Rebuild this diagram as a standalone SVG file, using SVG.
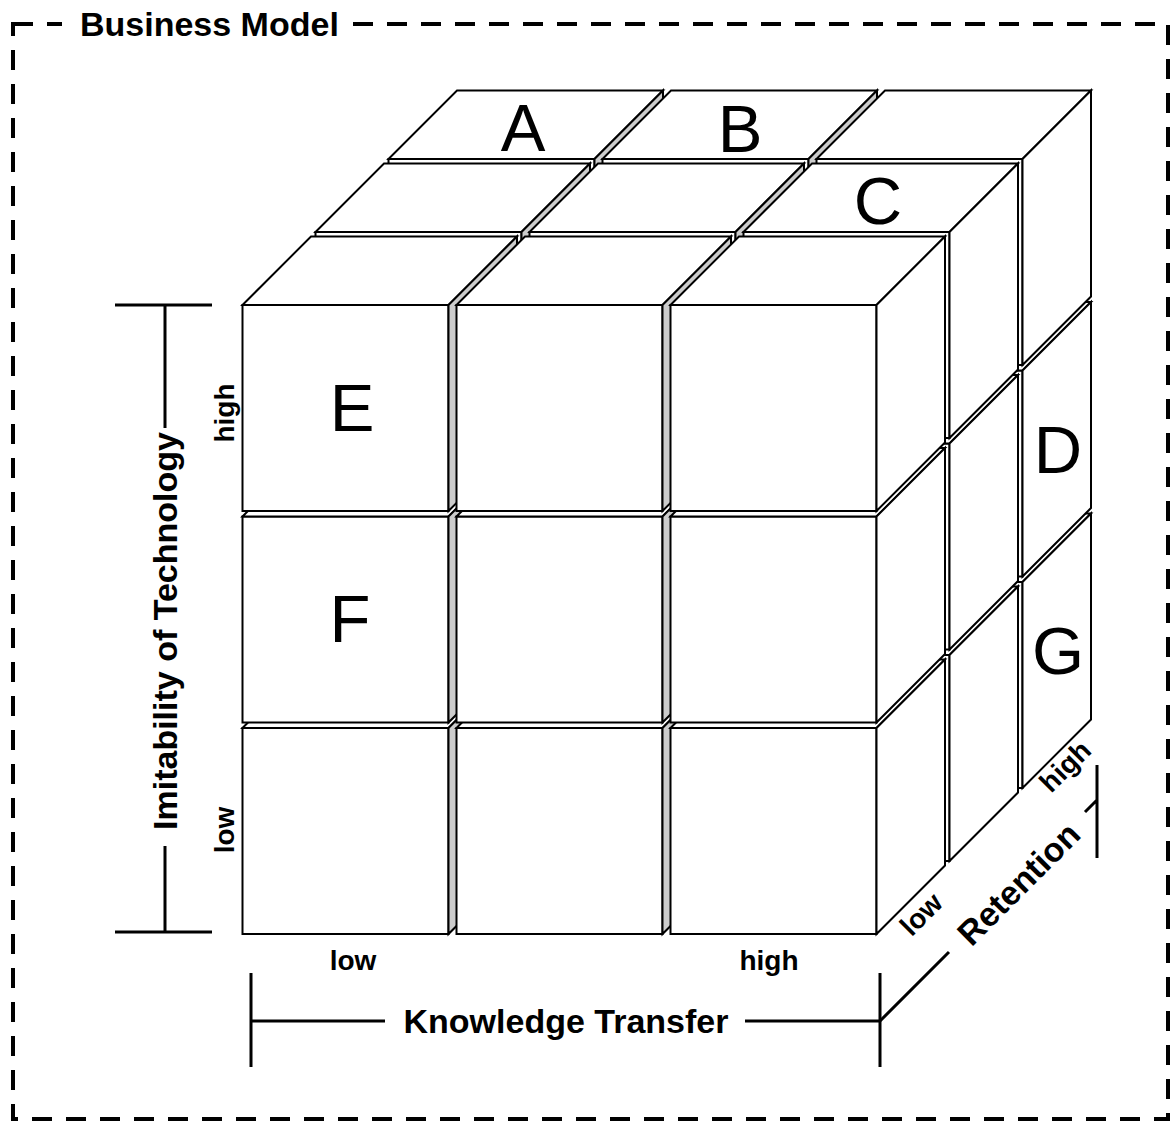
<svg xmlns="http://www.w3.org/2000/svg" width="1170" height="1122" viewBox="0 0 1170 1122">
  <style>
    .face { fill: #fff; stroke: #000; stroke-width: 2; }
    .side { fill: #cccccc; }
    .frame { fill: none; stroke: #000; stroke-width: 4; stroke-dasharray: 20 14; }
    .axis { fill: none; stroke: #000; stroke-width: 3; }
    .lbl { font-family: "Liberation Sans", Arial, Helvetica, sans-serif; font-weight: bold; fill: #000; }
    .big { font-family: "Liberation Sans", Arial, Helvetica, sans-serif; font-size: 67px; fill: #000; text-anchor: middle; }
  </style>
  <defs>
    <!-- unit block: front face, top face, right face (oblique projection, depth 68.5) -->
    <g id="cube-in">
      <rect class="face" x="0" y="0" width="206" height="206"/>
      <polygon class="face" points="0,0 68.5,-68.5 274.5,-68.5 206,0"/>
      <polygon class="face side" points="206,0 274.5,-68.5 274.5,137.5 206,206"/>
    </g>
    <!-- right-hand column: outer side face stays white -->
    <g id="cube-out">
      <rect class="face" x="0" y="0" width="206" height="206"/>
      <polygon class="face" points="0,0 68.5,-68.5 274.5,-68.5 206,0"/>
      <polygon class="face" points="206,0 274.5,-68.5 274.5,137.5 206,206"/>
    </g>
  </defs>

  <rect width="1170" height="1122" fill="#fff"/>

  <!-- dashed frame with title -->
  <g id="frame">
    <rect class="frame" x="13" y="24" width="1155" height="1095"/>
    <rect x="62" y="4" width="290" height="40" fill="#fff"/>
    <text class="lbl" x="80" y="36" font-size="34">Business Model</text>
  </g>

  <!-- 3x3x3 block, painted back layer first, bottom row first, left to right -->
  <g id="cubes">
    <g id="layer-back">
      <use id="cube-2-2-0" href="#cube-in" x="388.5" y="582"/>
      <use id="cube-2-2-1" href="#cube-in" x="602.5" y="582"/>
      <use id="cube-2-2-2" href="#cube-out" x="816.5" y="582"/>
      <use id="cube-2-1-0" href="#cube-in" x="388.5" y="370.5"/>
      <use id="cube-2-1-1" href="#cube-in" x="602.5" y="370.5"/>
      <use id="cube-2-1-2" href="#cube-out" x="816.5" y="370.5"/>
      <use id="cube-2-0-0" href="#cube-in" x="388.5" y="159"/>
      <use id="cube-2-0-1" href="#cube-in" x="602.5" y="159"/>
      <use id="cube-2-0-2" href="#cube-out" x="816.5" y="159"/>
    </g>
    <g id="layer-middle">
      <use id="cube-1-2-0" href="#cube-in" x="315.5" y="655"/>
      <use id="cube-1-2-1" href="#cube-in" x="529.5" y="655"/>
      <use id="cube-1-2-2" href="#cube-out" x="743.5" y="655"/>
      <use id="cube-1-1-0" href="#cube-in" x="315.5" y="443.5"/>
      <use id="cube-1-1-1" href="#cube-in" x="529.5" y="443.5"/>
      <use id="cube-1-1-2" href="#cube-out" x="743.5" y="443.5"/>
      <use id="cube-1-0-0" href="#cube-in" x="315.5" y="232"/>
      <use id="cube-1-0-1" href="#cube-in" x="529.5" y="232"/>
      <use id="cube-1-0-2" href="#cube-out" x="743.5" y="232"/>
    </g>
    <g id="layer-front">
      <use id="cube-0-2-0" href="#cube-in" x="242.5" y="728"/>
      <use id="cube-0-2-1" href="#cube-in" x="456.5" y="728"/>
      <use id="cube-0-2-2" href="#cube-out" x="670.5" y="728"/>
      <use id="cube-0-1-0" href="#cube-in" x="242.5" y="516.5"/>
      <use id="cube-0-1-1" href="#cube-in" x="456.5" y="516.5"/>
      <use id="cube-0-1-2" href="#cube-out" x="670.5" y="516.5"/>
      <use id="cube-0-0-0" href="#cube-in" x="242.5" y="305"/>
      <use id="cube-0-0-1" href="#cube-in" x="456.5" y="305"/>
      <use id="cube-0-0-2" href="#cube-out" x="670.5" y="305"/>
    </g>
  </g>

  <!-- cell letters -->
  <g id="cells">
    <text id="cell-A" class="big" x="523" y="151">A</text>
    <text id="cell-B" class="big" x="740" y="152">B</text>
    <text id="cell-C" class="big" x="878" y="224">C</text>
    <text id="cell-D" class="big" x="1058" y="473">D</text>
    <text id="cell-E" class="big" x="352" y="431">E</text>
    <text id="cell-F" class="big" x="350" y="642">F</text>
    <text id="cell-G" class="big" x="1058" y="674">G</text>
  </g>

  <!-- axes -->
  <g id="axes">
    <g id="axis-imitability">
      <path class="axis" d="M115,305 H212 M115,932 H212 M165,305 V428 M165,846 V932"/>
      <text class="lbl" font-size="34" text-anchor="middle" transform="translate(177,631) rotate(-90)">Imitability of Technology</text>
      <text class="lbl" font-size="28" text-anchor="middle" transform="translate(234,413) rotate(-90)">high</text>
      <text class="lbl" font-size="28" text-anchor="middle" transform="translate(234,830) rotate(-90)">low</text>
    </g>
    <g id="axis-knowledge">
      <path class="axis" d="M251,973 V1067 M880,973 V1067 M251,1021 H385 M745,1021 H880"/>
      <text class="lbl" font-size="34" text-anchor="middle" x="566" y="1033">Knowledge Transfer</text>
      <text class="lbl" font-size="28" text-anchor="middle" x="353" y="970">low</text>
      <text class="lbl" font-size="28" text-anchor="middle" x="769" y="970">high</text>
    </g>
    <g id="axis-retention">
      <path class="axis" d="M880,1021 L949,952 M1085,812 L1097,800 M1097,765 V858"/>
      <text class="lbl" font-size="34" text-anchor="middle" transform="translate(1027,892) rotate(-45)">Retention</text>
      <text class="lbl" font-size="28" text-anchor="middle" transform="translate(928,921) rotate(-45)">low</text>
      <text class="lbl" font-size="28" text-anchor="middle" transform="translate(1072,773) rotate(-45)">high</text>
    </g>
  </g>
</svg>
